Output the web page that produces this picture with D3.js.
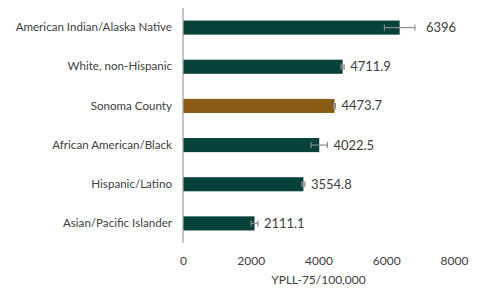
<!DOCTYPE html>
<html>
<head>
<meta charset="utf-8">
<script src="https://cdn.jsdelivr.net/npm/d3@7"></script>
<style>
  body { margin: 0; background: #fff; }
  text { font-family: Lato, "Open Sans", sans-serif; fill: #404040; }
</style>
</head>
<body>
<div id="chart"></div>
<script>
// Chart data
const groups = ["American Indian/Alaska Native", "White, non-Hispanic", "Sonoma County",
                "African American/Black", "Hispanic/Latino", "Asian/Pacific Islander"];
const rates = [6396, 4711.9, 4473.7, 4022.5, 3554.8, 2111.1];
const errors = [450, 45, 25, 240, 45, 100];
const valueLabels = ["6396", "4711.9", "4473.7", "4022.5", "3554.8", "2111.1"];
const xTicks = [0, 2000, 4000, 6000, 8000];

const width = 485, height = 298;
const margin = { top: 8, right: 31, bottom: 55, left: 183 };

const svg = d3.select("#chart").append("svg")
    .attr("width", width)
    .attr("height", height);

const x = d3.scaleLinear()
    .domain([0, 8000])
    .range([margin.left, width - margin.right]);

const y = d3.scaleBand()
    .domain(groups)
    .range([margin.top, height - margin.bottom])
    .paddingInner(0.64)
    .paddingOuter(0.32);

// bars
svg.selectAll(".bar")
    .data(groups)
    .enter()
    .append("rect")
    .attr("x", x(0))
    .attr("y", d => y(d))
    .attr("width", (d, i) => x(rates[i]) - x(0))
    .attr("height", y.bandwidth())
    .attr("fill", d => d === "Sonoma County" ? "#8a5b14" : "#07423a");

// error bars
const errG = svg.append("g").attr("stroke", "#8c8c8c").attr("stroke-width", 1.2);
groups.forEach((g, i) => {
    const cy = y(g) + y.bandwidth() / 2;
    const lo = x(rates[i] - errors[i]), hi = x(rates[i] + errors[i]);
    errG.append("line").attr("x1", lo).attr("x2", hi).attr("y1", cy).attr("y2", cy);
    errG.append("line").attr("x1", lo).attr("x2", lo).attr("y1", cy - 3).attr("y2", cy + 3);
    errG.append("line").attr("x1", hi).attr("x2", hi).attr("y1", cy - 3).attr("y2", cy + 3);
});

// value labels
svg.selectAll(".val")
    .data(groups)
    .enter()
    .append("text")
    .attr("x", (d, i) => x(rates[i] + errors[i]) + (i === 0 ? 11 : 6))
    .attr("y", d => y(d) + y.bandwidth() / 2)
    .attr("dy", "0.35em")
    .style("font-size", "13px")
    .text((d, i) => valueLabels[i]);

// y axis (category labels + line)
const yAxis = svg.append("g")
    .attr("transform", `translate(${margin.left},0)`)
    .call(d3.axisLeft(y).tickSize(0).tickPadding(11));
yAxis.select(".domain").attr("stroke", "#a6a6a6").attr("stroke-width", 1.3)
    .attr("d", `M0,${margin.top}V${height - margin.bottom}`);
yAxis.selectAll("text").style("font-size", "11.6px").style("font-family", "Lato, sans-serif").attr("fill", "#404040");

// x axis (labels only)
const xAxis = svg.append("g")
    .attr("transform", `translate(0,${height - margin.bottom})`)
    .call(d3.axisBottom(x).tickValues(xTicks).tickFormat(d3.format("d")).tickSize(0).tickPadding(13));
xAxis.select(".domain").remove();
xAxis.selectAll("text").style("font-size", "12px").style("font-family", "Lato, sans-serif").attr("fill", "#595959");

// axis title
svg.append("text")
    .attr("x", (x(0) + x(8000)) / 2)
    .attr("y", 284)
    .attr("text-anchor", "middle")
    .style("font-size", "12px")
    .attr("fill", "#595959")
    .text("YPLL-75/100,000");
</script>
</body>
</html>
